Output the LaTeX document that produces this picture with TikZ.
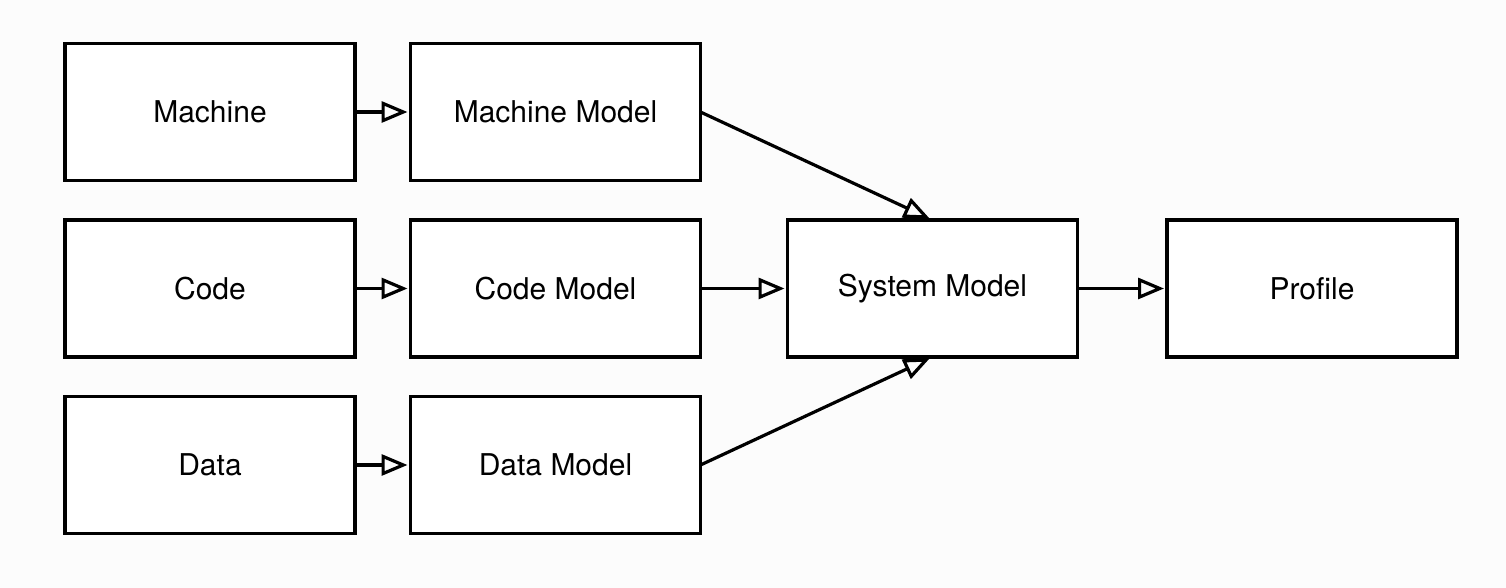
\documentclass[tikz,border=0pt]{standalone}
\usepackage{fontspec}
\setmainfont{TeX Gyre Heros}
\usetikzlibrary{arrows.meta}
\definecolor{bgc}{HTML}{FCFCFC}
\begin{document}
\begin{tikzpicture}[x=0.5pt,y=-0.5pt,
  box/.style={draw=black, line width=1.7pt, fill=white, rectangle, minimum width=145pt, minimum height=68.5pt, inner sep=0pt, outer sep=0pt, font=\fontsize{15}{18}\selectfont},
  conn/.style={line width=1.6pt, -{Triangle[open, length=13pt, width=10.5pt]}, shorten >=1.5pt}
]
\fill[bgc] (0,0) rectangle (1506,588);
\useasboundingbox (0,0) rectangle (1506,588);
\node[box] (machine) at (210,112) {Machine};
\node[box] (code) at (210,288.5) {Code};
\node[box] (data) at (210,465) {Data};
\node[box] (mm) at (555.5,112) {Machine Model};
\node[box] (cm) at (555.5,288.5) {Code Model};
\node[box] (dm) at (555.5,465) {Data Model};
\node[box] (sm) at (932.5,288.5) {System Model};
\node[box] (pr) at (1312,288.5) {Profile};
\draw[conn] (machine) -- (mm);
\draw[conn] (code) -- (cm);
\draw[conn] (data) -- (dm);
\draw[conn] (mm.east) -- (sm.north);
\draw[conn] (cm) -- (sm);
\draw[conn] (dm.east) -- (sm.south);
\draw[conn] (sm) -- (pr);
\end{tikzpicture}
\end{document}
